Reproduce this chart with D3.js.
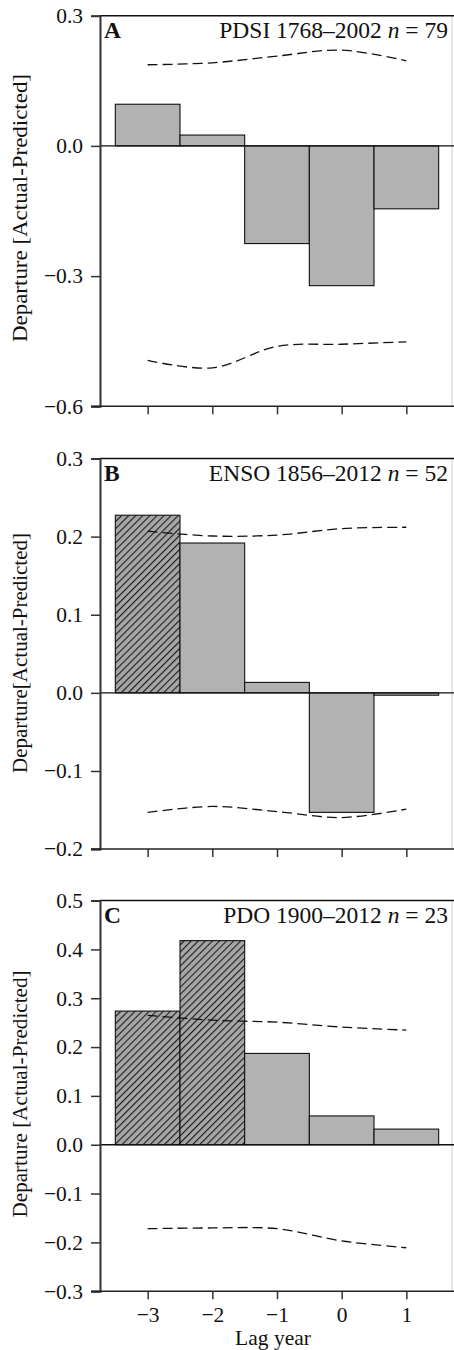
<!DOCTYPE html>
<html>
<head>
<meta charset="utf-8">
<script src="https://cdn.jsdelivr.net/npm/d3@7"></script>
<style>
  body { margin: 0; background: #fff; }
  svg { display: block; }
  text { font-family: "Liberation Serif", "DejaVu Serif", serif; fill: #111; }
</style>
</head>
<body>
<div id="chart"></div>
<script>
// -------------------------------
// Data
// -------------------------------
const lagYears = [-3, -2, -1, 0, 1];

const pdsiDeparture = [0.096, 0.025, -0.225, -0.322, -0.145];
const pdsiUpper = [0.187, 0.1915, 0.207, 0.2207, 0.196];
const pdsiLower = [-0.494, -0.5115, -0.462, -0.457, -0.4515];
const pdsiSignificant = [false, false, false, false, false];
const pdsiTicks = [-0.6, -0.3, 0.0, 0.3];

const ensoDeparture = [0.2274, 0.1918, 0.0134, -0.153, -0.003];
const ensoUpper = [0.207, 0.2008, 0.202, 0.2103, 0.212];
const ensoLower = [-0.153, -0.1454, -0.152, -0.1596, -0.1488];
const ensoSignificant = [true, false, false, false, false];
const ensoTicks = [-0.2, -0.1, 0.0, 0.1, 0.2, 0.3];

const pdoDeparture = [0.2737, 0.418, 0.187, 0.059, 0.032];
const pdoUpper = [0.265, 0.255, 0.251, 0.241, 0.2347];
const pdoLower = [-0.172, -0.1705, -0.172, -0.197, -0.211];
const pdoSignificant = [true, true, false, false, false];
const pdoTicks = [-0.3, -0.2, -0.1, 0.0, 0.1, 0.2, 0.3, 0.4, 0.5];

const panelLetters = ["A", "B", "C"];
const panelTitles = ["PDSI 1768\u20132002 ", "ENSO 1856\u20132012 ", "PDO 1900\u20132012 "];
const panelN = [79, 52, 23];
const yTitles = ["Departure [Actual-Predicted]", "Departure[Actual-Predicted]", "Departure [Actual-Predicted]"];

const panels = [
  { values: pdsiDeparture, upper: pdsiUpper, lower: pdsiLower, sig: pdsiSignificant, ticks: pdsiTicks, domain: [-0.6, 0.3] },
  { values: ensoDeparture, upper: ensoUpper, lower: ensoLower, sig: ensoSignificant, ticks: ensoTicks, domain: [-0.2, 0.3] },
  { values: pdoDeparture, upper: pdoUpper, lower: pdoLower, sig: pdoSignificant, ticks: pdoTicks, domain: [-0.3, 0.5] },
];

// -------------------------------
// Layout
// -------------------------------
const svgWidth = 454;
const svgHeight = 1350;
const plotLeft = 100;
const plotRight = 452;
const panelTops = [15.7, 458.5, 900.6];
const panelHeight = 390.6;
const yTitleCenters = [208, 653, 1094];
const yTitleLengths = [268, 240, 247];

const svg = d3.select("#chart")
  .append("svg")
  .attr("width", svgWidth)
  .attr("height", svgHeight);

// hatch pattern for significant bars
const defs = svg.append("defs");
const hatch = defs.append("pattern")
  .attr("id", "hatch")
  .attr("patternUnits", "userSpaceOnUse")
  .attr("width", 5)
  .attr("height", 5)
  .attr("patternTransform", "rotate(45)");
hatch.append("rect").attr("width", 5).attr("height", 5).attr("fill", "#a6a6a6");
hatch.append("line")
  .attr("x1", 0).attr("y1", 0).attr("x2", 0).attr("y2", 5)
  .attr("stroke", "#1a1a1a").attr("stroke-width", 2.2);

// shared x scale
const xScale = d3.scaleLinear()
  .domain([-3.737, 1.706])
  .range([plotLeft, plotRight]);

const line = d3.line()
  .x((d) => xScale(d.lag))
  .y((d) => d.y)
  .curve(d3.curveCatmullRom.alpha(0.5));

panels.forEach((p, i) => {
  const top = panelTops[i];
  const bottom = top + panelHeight;

  const yScale = d3.scaleLinear()
    .domain(p.domain)
    .range([bottom, top]);

  const g = svg.append("g");

  // right frame (faint)
  g.append("line")
    .attr("x1", plotRight).attr("x2", plotRight)
    .attr("y1", top).attr("y2", bottom)
    .attr("stroke", "#d0d0d0").attr("stroke-width", 1);

  // top frame
  g.append("line")
    .attr("x1", plotLeft).attr("x2", svgWidth)
    .attr("y1", top).attr("y2", top)
    .attr("stroke", "#111").attr("stroke-width", 1.5);

  // bars
  const barData = lagYears.map((lag, j) => ({ lag, v: p.values[j], sig: p.sig[j] }));
  g.selectAll("rect.bar")
    .data(barData)
    .join("rect")
    .attr("class", "bar")
    .attr("x", (d) => xScale(d.lag - 0.5))
    .attr("width", (d) => xScale(d.lag + 0.5) - xScale(d.lag - 0.5))
    .attr("y", (d) => yScale(Math.max(0, d.v)))
    .attr("height", (d) => Math.abs(yScale(d.v) - yScale(0)))
    .attr("fill", (d) => (d.sig ? "url(#hatch)" : "#b2b2b2"))
    .attr("stroke", "#111")
    .attr("stroke-width", 1.1);

  // zero line
  g.append("line")
    .attr("x1", plotLeft).attr("x2", svgWidth)
    .attr("y1", yScale(0)).attr("y2", yScale(0))
    .attr("stroke", "#111").attr("stroke-width", 1.4);

  // confidence envelopes
  [p.upper, p.lower].forEach((arr) => {
    g.append("path")
      .datum(lagYears.map((lag, j) => ({ lag, y: yScale(arr[j]) })))
      .attr("d", line)
      .attr("fill", "none")
      .attr("stroke", "#111")
      .attr("stroke-width", 1.3)
      .attr("stroke-dasharray", "10,5");
  });

  // y axis
  const yAxis = g.append("g")
    .attr("transform", `translate(${plotLeft},0)`)
    .call(d3.axisLeft(yScale).tickValues(p.ticks).tickFormat(d3.format(".1f")).tickSize(9).tickPadding(8));
  yAxis.select(".domain").attr("stroke", "#333").attr("stroke-width", 2);
  yAxis.selectAll(".tick line").attr("stroke", "#333").attr("stroke-width", 1.5);
  yAxis.selectAll("text")
    .attr("font-family", "Liberation Serif, serif")
    .attr("font-size", 21.5)
    .attr("fill", "#111");

  // x axis
  const xAxis = g.append("g")
    .attr("transform", `translate(0,${bottom})`)
    .call(d3.axisBottom(xScale).tickValues(lagYears).tickSize(8).tickPadding(8)
      .tickFormat(i === 2 ? d3.format("d") : () => ""));
  xAxis.select(".domain").remove();
  xAxis.selectAll(".tick line").attr("stroke", "#333").attr("stroke-width", 1.5);
  xAxis.selectAll("text")
    .attr("font-family", "Liberation Serif, serif")
    .attr("font-size", 21.5)
    .attr("fill", "#111");
  g.append("line")
    .attr("x1", plotLeft - 9).attr("x2", svgWidth)
    .attr("y1", bottom).attr("y2", bottom)
    .attr("stroke", "#222").attr("stroke-width", 1.5);

  // panel letter
  g.append("text")
    .attr("x", plotLeft + 4)
    .attr("y", top + 22)
    .attr("font-size", 23.5)
    .attr("font-weight", "bold")
    .text(panelLetters[i]);

  // panel title
  const title = g.append("text")
    .attr("x", 448)
    .attr("y", top + 22)
    .attr("text-anchor", "end")
    .attr("font-size", 23.5);
  title.append("tspan").text(panelTitles[i]);
  title.append("tspan").attr("font-style", "italic").text("n");
  title.append("tspan").text(" = " + panelN[i]);

  // y title
  g.append("text")
    .attr("transform", `translate(27,${yTitleCenters[i]}) rotate(-90)`)
    .attr("text-anchor", "middle")
    .attr("font-size", 21)
    .attr("textLength", yTitleLengths[i])
    .attr("lengthAdjust", "spacingAndGlyphs")
    .text(yTitles[i]);
});

// x title
svg.append("text")
  .attr("x", 273)
  .attr("y", 1345)
  .attr("text-anchor", "middle")
  .attr("font-size", 21.5)
  .text("Lag year");
</script>
</body>
</html>
